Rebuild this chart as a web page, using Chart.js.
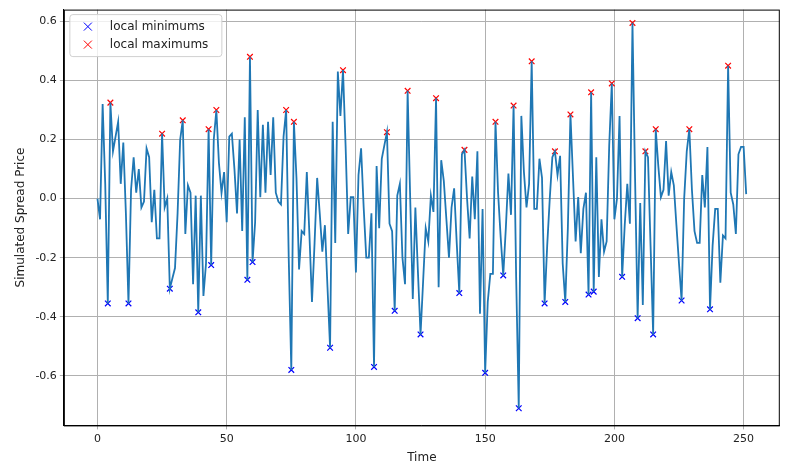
<!DOCTYPE html>
<html>
<head>
<meta charset="utf-8">
<script src="https://cdn.jsdelivr.net/npm/chart.js@4"></script>
<style>
  body { margin: 0; background: #fff; }
  #wrap { width: 785px; height: 469px; }
</style>
</head>
<body>
<div id="wrap"><canvas id="chart"></canvas></div>
<script>
// spread values, one per time step
const spread = [
  0, -0.07, 0.32, 0.05, -0.355, 0.325, 0.16, 0.21, 0.26, 0.05,
  0.19, -0.05, -0.355, 0.03, 0.14, 0.02, 0.10, -0.03, -0.01, 0.17,
  0.14, -0.08, 0.03, -0.135, -0.135, 0.22, -0.03, 0.0, -0.305, -0.27,
  -0.235, -0.05, 0.2, 0.265, -0.12, 0.045, 0.02, -0.29, 0.01, -0.385,
  0.01, -0.33, -0.22, 0.235, -0.225, 0.2, 0.30, 0.12, 0.02, 0.09,
  -0.08, 0.21, 0.22, 0.10, -0.05, 0.2, -0.11, 0.275, -0.275, 0.48,
  -0.215, -0.08, 0.30, 0.005, 0.25, 0.02, 0.26, 0.08, 0.275, 0.02,
  -0.01, -0.02, 0.21, 0.30, -0.2, -0.58, 0.26, 0.07, -0.24, -0.11,
  -0.12, 0.09, -0.12, -0.35, -0.15, 0.07, -0.05, -0.18, -0.09, -0.3,
  -0.505, 0.26, -0.15, 0.43, 0.28, 0.435, 0.18, -0.12, 0.005, 0.005,
  -0.25, 0.08, 0.17, -0.03, -0.2, -0.2, -0.05, -0.57, 0.11, -0.10,
  0.135, 0.18, 0.225, -0.085, -0.11, -0.38, 0.01, 0.05, -0.2, -0.29,
  0.365, 0.0, -0.34, -0.03, -0.25, -0.46, -0.28, -0.10, -0.145, 0.01,
  -0.045, 0.34, -0.30, 0.13, 0.06, -0.07, -0.2, -0.03, 0.035, -0.15,
  -0.32, 0.15, 0.165, 0.0, -0.135, 0.075, -0.07, 0.16, -0.39, -0.035,
  -0.59, -0.35, -0.255, -0.255, 0.26, 0.02, -0.13, -0.26, -0.1, 0.085,
  -0.055, 0.315, -0.27, -0.71, 0.28, 0.09, -0.03, 0.05, 0.465, -0.035,
  -0.035, 0.135, 0.07, -0.355, -0.16, 0.0, 0.14, 0.16, 0.08, 0.145,
  -0.22, -0.35, -0.1, 0.285, 0.07, -0.145, 0.005, -0.185, -0.035, 0.02,
  -0.325, 0.36, -0.315, 0.14, -0.265, -0.07, -0.18, -0.145, 0.18, 0.39,
  -0.07, 0.0, 0.28, -0.265, -0.09, 0.05, -0.085, 0.595, 0.07, -0.405,
  -0.015, -0.36, 0.16, 0.14, -0.16, -0.46, 0.235, 0.11, 0.005, 0.03,
  0.195, 0.01, 0.09, 0.045, -0.09, -0.22, -0.345, 0.0, 0.16, 0.235,
  0.03, -0.11, -0.15, -0.15, 0.08, -0.03, 0.175, -0.375, -0.16, -0.035,
  -0.035, -0.285, -0.125, -0.135, 0.45, 0.02, -0.02, -0.12, 0.15, 0.175,
  0.175, 0.015
];
const minIdx = [4, 12, 28, 39, 44, 58, 60, 75, 90, 107, 115, 125, 140, 150, 157, 163, 173, 181, 190, 192, 203, 209, 215, 226, 237];
const maxIdx = [5, 25, 33, 43, 46, 59, 73, 76, 95, 112, 120, 131, 142, 154, 161, 168, 177, 183, 191, 199, 207, 212, 216, 229, 244];
const xTicks = [0, 50, 100, 150, 200, 250];
const yTicks = [-0.6, -0.4, -0.2, 0.0, 0.2, 0.4, 0.6];

const font = "'DejaVu Sans', sans-serif";
const lineData = spread.map((v, i) => ({ x: i, y: v }));
const minData = minIdx.map(i => ({ x: i, y: spread[i] }));
const maxData = maxIdx.map(i => ({ x: i, y: spread[i] }));

// legend inside the plot (top left) plus the full axes frame
const boxLegend = {
  id: "boxLegend",
  afterDraw(chart) {
    const ctx = chart.ctx;
    const a = chart.chartArea;
    ctx.save();
    ctx.strokeStyle = "#000";
    ctx.lineWidth = 1;
    ctx.strokeRect(a.left + 0.5, a.top + 0.5, a.right - a.left - 1, a.bottom - a.top);
    const x0 = a.left + 6, y0 = a.top + 5;
    ctx.fillStyle = "rgba(255,255,255,0.8)";
    ctx.strokeStyle = "#d0d0d0";
    ctx.beginPath();
    ctx.roundRect(x0, y0, 152, 42, 3);
    ctx.fill();
    ctx.stroke();
    const items = [["blue", "local minimums"], ["red", "local maximums"]];
    ctx.font = "12px " + font;
    ctx.textBaseline = "middle";
    items.forEach((it, k) => {
      const cy = y0 + 12 + k * 18;
      const cx = x0 + 18;
      ctx.strokeStyle = it[0];
      ctx.beginPath();
      ctx.moveTo(cx - 4, cy - 4); ctx.lineTo(cx + 4, cy + 4);
      ctx.moveTo(cx - 4, cy + 4); ctx.lineTo(cx + 4, cy - 4);
      ctx.stroke();
      ctx.fillStyle = "#222";
      ctx.fillText(it[1], x0 + 40, cy);
    });
    ctx.restore();
  }
};

new Chart(document.getElementById("chart"), {
  type: "line",
  data: {
    datasets: [
      {
        data: lineData,
        borderColor: "#1f77b4",
        borderWidth: 1.8,
        pointRadius: 0,
        tension: 0
      },
      {
        label: "local minimums",
        data: minData,
        showLine: false,
        pointStyle: "crossRot",
        pointRadius: 4,
        borderColor: "blue",
        borderWidth: 1.2
      },
      {
        label: "local maximums",
        data: maxData,
        showLine: false,
        pointStyle: "crossRot",
        pointRadius: 4,
        borderColor: "red",
        borderWidth: 1.2
      }
    ]
  },
  options: {
    responsive: true,
    maintainAspectRatio: false,
    animation: false,
    layout: { padding: { top: 6, right: 5, left: 10, bottom: 2 } },
    plugins: { legend: { display: false }, tooltip: { enabled: false } },
    scales: {
      x: {
        type: "linear",
        min: -13,
        max: 264,
        afterBuildTicks: ax => { ax.ticks = xTicks.map(v => ({ value: v })); },
        grid: { color: "#b0b0b0", drawTicks: true, tickLength: 4 },
        border: { color: "#000" },
        ticks: { color: "#222", font: { family: font, size: 11 } },
        title: { display: true, text: "Time", color: "#222", font: { family: font, size: 12 }, padding: 2 }
      },
      y: {
        min: -0.768,
        max: 0.64,
        afterBuildTicks: ax => { ax.ticks = yTicks.map(v => ({ value: v })); },
        grid: { color: "#b0b0b0", tickLength: 4 },
        border: { color: "#000" },
        ticks: { color: "#222", font: { family: font, size: 11 }, callback: v => v.toFixed(1) },
        title: { display: true, text: "Simulated Spread Price", color: "#222", font: { family: font, size: 12 } }
      }
    }
  },
  plugins: [boxLegend]
});
</script>
</body>
</html>
